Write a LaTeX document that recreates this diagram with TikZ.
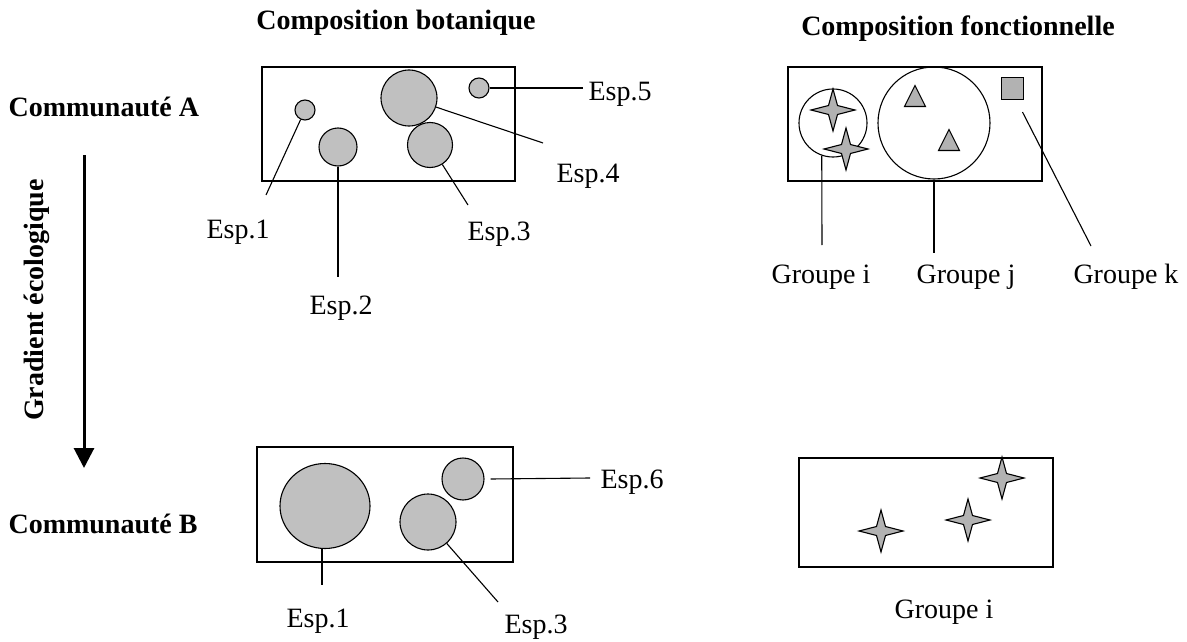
\documentclass[tikz,border=0pt]{standalone}
\usepackage{fontspec}
\setmainfont{Liberation Serif}
\usetikzlibrary{arrows.meta,shapes.geometric}
\definecolor{espgray}{RGB}{192,192,192}
\definecolor{symgray}{RGB}{178,178,178}

\begin{document}
\begin{tikzpicture}[x=1pt,y=-1pt,line width=1.1pt,
  every node/.style={font=\fontsize{28}{34}\selectfont,inner sep=0pt},
  lbl/.style={anchor=base},
  titre/.style={anchor=base,font=\fontsize{28}{34}\selectfont\bfseries},
  esp/.style={draw,circle,fill=espgray,minimum size=#1},
  grp/.style={draw,circle,minimum size=#1},
  boite/.style={draw,line width=1.3pt},
  etoile/.pic={\filldraw[fill=symgray] (0,-21) -- (4.5,-4.5) -- (22,0) -- (4.5,4.5) -- (0,21) -- (-4.5,4.5) -- (-22,0) -- (-4.5,-4.5) -- cycle;},
  tri/.pic={\filldraw[fill=symgray] (-10.5,10.5) -- (10.5,10.5) -- (0,-10.5) -- cycle;}]
\useasboundingbox (0,0) rectangle (1187,642);

% titles and gradient
\node[titre] (tbot) at (396,30) {Composition botanique};
\node[titre] (tfonc) at (958,36) {Composition fonctionnelle};
\node[titre,anchor=base west] (comA) at (8,117) {Communauté A};
\node[titre,anchor=base west] (comB) at (8,533) {Communauté B};
\node[titre,anchor=center,rotate=90] (grad) at (37,300) {Gradient écologique};
\coordinate (gtop) at (84,155);
\coordinate (gbot) at (84,468);
\draw[line width=3pt,-{Triangle[width=20pt,length=20pt]}] (gtop) -- (gbot);

% communaute A, botanique
\draw[boite] (262,67) rectangle (515,181);
\node[esp=20pt] (c1) at (305,110) {};
\node[esp=38pt] (c2) at (338,147) {};
\node[esp=45pt] (c3) at (430,145) {};
\node[esp=56pt] (c4) at (409,98) {};
\node[esp=20pt] (c5) at (479,88) {};
\node[lbl] (l1) at (238,238) {Esp.1};
\node[lbl] (l2) at (341,314) {Esp.2};
\node[lbl] (l3) at (499,240) {Esp.3};
\node[lbl] (l4) at (588,182) {Esp.4};
\node[lbl,anchor=base west] (l5) at (588,100) {Esp.5};
\coordinate (e1) at (266,195);
\coordinate (e2) at (338,277);
\coordinate (e3) at (468,205);
\coordinate (e4) at (543,143);
\coordinate (e5) at (583,88);
\draw (c1) -- (e1);
\draw (c2) -- (e2);
\draw (c3) -- (e3);
\draw (c4) -- (e4);
\draw (c5) -- (e5);

% communaute A, fonctionnelle
\draw[boite] (788,67) rectangle (1042,181);
\node[grp=68pt] (gi) at (833,123) {};
\node[grp=112pt] (gj) at (934,123) {};
\pic at (833,110) {etoile};
\pic at (846,149) {etoile};
\pic at (915,96) {tri};
\pic at (949,140) {tri};
\node[draw,fill=symgray,minimum size=22pt] (gk) at (1012.5,88.5) {};
\node[lbl] (ti) at (821,283) {Groupe i};
\node[lbl] (tj) at (966,283) {Groupe j};
\node[lbl] (tk) at (1126,283) {Groupe k};
\coordinate (fi) at (822,245);
\coordinate (fj) at (934,253);
\coordinate (fk) at (1091,246);
\draw (gi.-109) -- (fi);
\draw (gj.south) -- (fj);
\draw ([shift={(10pt,-12pt)}]gk.south) -- (fk);

% communaute B, botanique
\draw[boite] (257,447) rectangle (513,562);
\node[draw,ellipse,fill=espgray,minimum width=90pt,minimum height=85pt] (d1) at (325,506) {};
\node[esp=56pt] (d3) at (428,522) {};
\node[esp=42pt] (d6) at (463,479) {};
\node[lbl] (m1) at (318,627) {Esp.1};
\node[lbl] (m3) at (536,633) {Esp.3};
\node[lbl,anchor=base west] (m6) at (600,488) {Esp.6};
\coordinate (b1) at (322,585);
\coordinate (b3) at (498,602);
\coordinate (b6) at (590,478);
\draw (d1.south -| b1) -- (b1);
\draw (d3) -- (b3);
\draw ([xshift=6pt]d6.east) -- (b6);

% communaute B, fonctionnelle
\draw[boite] (799,458) rectangle (1053,567);
\pic at (881,531) {etoile};
\pic at (968,520) {etoile};
\pic at (1002,478) {etoile};
\node[lbl] (tb) at (944,618) {Groupe i};
\end{tikzpicture}
\end{document}
